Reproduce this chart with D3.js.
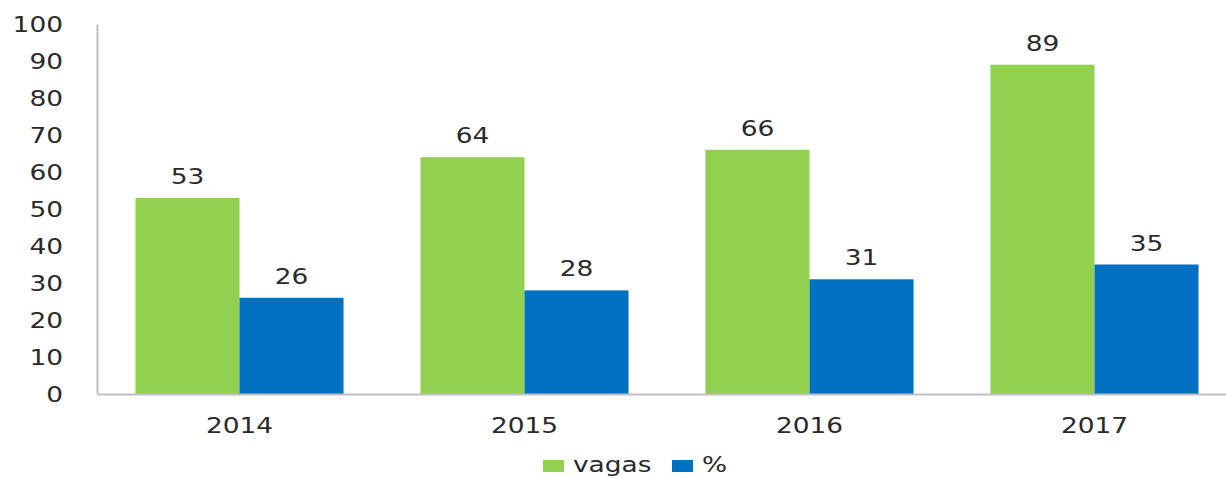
<!DOCTYPE html>
<html><head><meta charset="utf-8">
<script src="https://cdn.jsdelivr.net/npm/d3@7"></script>
<style>body{margin:0;background:#fff}svg{display:block}text{font-family:"DejaVu Sans",sans-serif;fill:#2a2a2a}</style>
</head><body>
<svg id="c" width="1226" height="478"></svg>
<script>
const categories = ["2014","2015","2016","2017"];
const seriesNames = ["vagas","%"];
const vagas = [53,64,66,89];
const pct = [26,28,31,35];
const yTicks = [0,10,20,30,40,50,60,70,80,90,100];
const colors = ["#92D050","#0070C0"];
const FS = 22;

const svg = d3.select("#c");
const x0 = d3.scaleBand().domain(categories).range([97,1237]).paddingInner(0.27).paddingOuter(0.135);
const x1 = d3.scaleBand().domain(seriesNames).range([0,x0.bandwidth()]);
const y = d3.scaleLinear().domain([0,100]).range([394,24]);
const data = categories.map((c,i)=>({cat:c, vals:[vagas[i],pct[i]]}));

const g = svg.selectAll("g.grp").data(data).join("g").attr("class","grp")
  .attr("transform",d=>`translate(${x0(d.cat)},0)`);
g.selectAll("rect").data(d=>d.vals.map((v,j)=>({v,s:seriesNames[j],j}))).join("rect")
  .attr("x",d=>x1(d.s)).attr("width",x1.bandwidth())
  .attr("y",d=>y(d.v)).attr("height",d=>y(0)-y(d.v)).attr("fill",d=>colors[d.j]);
g.selectAll("text.val").data(d=>d.vals.map((v,j)=>({v,s:seriesNames[j]}))).join("text")
  .attr("class","val").attr("x",d=>x1(d.s)+x1.bandwidth()/2).attr("y",d=>y(d.v)-14)
  .attr("text-anchor","middle").attr("font-size",FS).text(d=>d.v);

// axes
const yAxis = svg.append("g").attr("transform","translate(97,0)")
  .call(d3.axisLeft(y).tickValues(yTicks).tickSize(0).tickPadding(34));
yAxis.select(".domain").attr("stroke","#c0c0c0").attr("stroke-width",2);
yAxis.selectAll("text").attr("font-size",FS).attr("fill","#2a2a2a").attr("font-family","DejaVu Sans");
const xAxis = svg.append("g").attr("transform","translate(0,394)")
  .call(d3.axisBottom(x0).tickSize(0).tickPadding(23));
xAxis.select(".domain").attr("stroke","#c0c0c0").attr("stroke-width",2);
xAxis.selectAll("text").attr("font-size",FS).attr("fill","#2a2a2a").attr("font-family","DejaVu Sans");

// legend
const legX = [543, 672];
const leg = svg.selectAll("g.leg").data(seriesNames).join("g").attr("class","leg")
  .attr("transform",(d,i)=>`translate(${legX[i]},460)`);
leg.append("rect").attr("width",21).attr("height",12).attr("fill",(d,i)=>colors[i]);
leg.append("text").attr("x",30).attr("y",12).attr("font-size",FS).text(d=>d);

// horizontally stretched glyphs like the reference
svg.selectAll("text").each(function(){
  const w = this.getComputedTextLength();
  d3.select(this).attr("textLength", w*1.2).attr("lengthAdjust","spacingAndGlyphs");
});
</script>
</body></html>
